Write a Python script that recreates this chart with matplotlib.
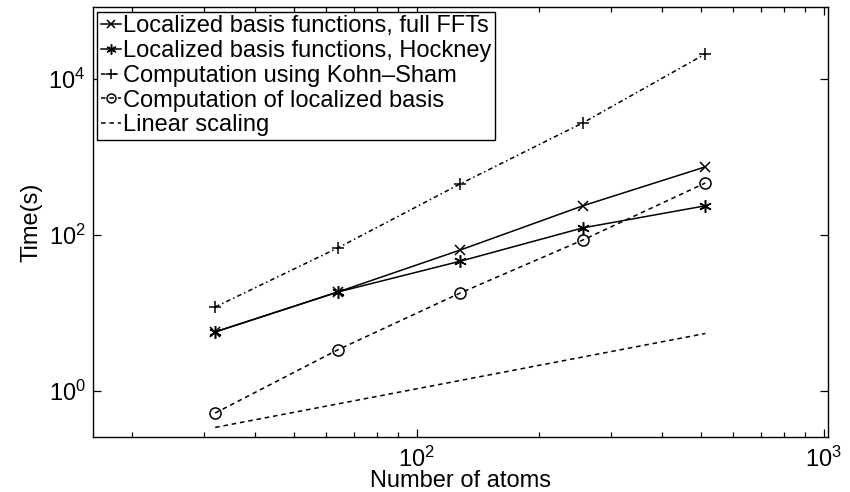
import matplotlib
matplotlib.use("Agg")
from matplotlib import pyplot as plt
from matplotlib.ticker import LogLocator, NullLocator, NullFormatter

plt.rcParams['font.family'] = ['Liberation Sans', 'DejaVu Sans']
plt.rcParams['mathtext.fontset'] = 'custom'
plt.rcParams['mathtext.rm'] = 'Liberation Sans'

# data
atoms = [32, 64, 128, 256, 512]
full_ffts = [5.7, 18.5, 64, 236, 745]
hockney = [5.7, 18.5, 46, 123, 236]
kohn_sham = [11.9, 68, 451, 2730, 20900]
loc_basis = [0.52, 3.36, 18, 86, 463]
linear_x = [32, 512]
linear_y = [0.34, 5.44]

fig = plt.figure(figsize=(8.5, 4.92), dpi=100)
ax = fig.add_axes([0.109, 0.112, 0.865, 0.874])

lw = 1.1
ax.plot(atoms, full_ffts, '-', color='black', lw=lw, marker='x', ms=7, mew=1.1,
        label='Localized basis functions, full FFTs')
ax.plot(atoms, hockney, '-', color='black', lw=lw, marker=(6, 2, 0), ms=9, mew=1.1,
        label='Localized basis functions, Hockney')
ax.plot(atoms, kohn_sham, color='black', lw=lw, ls=(0, (3, 2, 1, 2)), marker='+', ms=9, mew=1.1,
        label='Computation using Kohn\u2013Sham')
ax.plot(atoms, loc_basis, color='black', lw=lw, ls=(0, (3, 2.5)), marker='o', ms=8,
        mfc='none', mew=1.1, label='Computation of localized basis')
ax.plot(linear_x, linear_y, color='black', lw=lw, ls=(0, (3, 2.5)),
        label='Linear scaling')

ax.set_xscale('log')
ax.set_yscale('log')
ax.set_xlim(16, 1024)
ax.set_ylim(0.257, 83800)

ax.xaxis.set_major_locator(LogLocator(base=10, numticks=10))
ax.xaxis.set_minor_locator(LogLocator(base=10, subs=range(2, 10), numticks=10))
ax.xaxis.set_minor_formatter(NullFormatter())
ax.set_yticks([1, 100, 10000])
ax.yaxis.set_minor_locator(NullLocator())

ax.tick_params(which='both', direction='in', top=True, right=True, labelsize=17, width=0.9)
ax.tick_params(which='major', length=6, pad=5)
ax.tick_params(axis='x', which='major', pad=7)
ax.tick_params(which='minor', length=3.5)
for s in ax.spines.values():
    s.set_linewidth(1.0)

ax.set_xlabel('Number of atoms', fontsize=17)
ax.xaxis.set_label_coords(0.5, -0.077)
ax.set_ylabel('Time(s)', fontsize=17, labelpad=4)

leg = ax.legend(loc='upper left', fontsize=17, handlelength=0.85, handletextpad=0.1,
                borderaxespad=0.2, borderpad=0.15, labelspacing=0.12, fancybox=False,
                framealpha=1, edgecolor='black', markerscale=0.8)
leg.get_frame().set_linewidth(1.0)

fig.savefig('out.png', dpi=100)
